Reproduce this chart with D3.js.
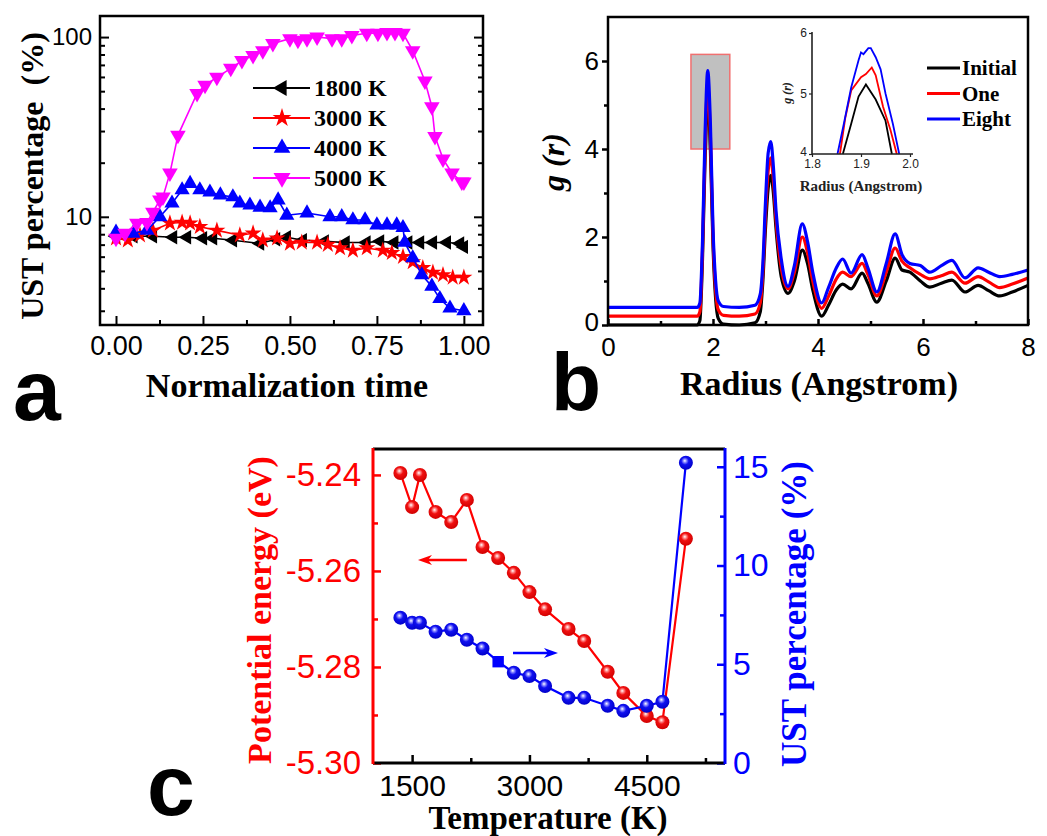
<!DOCTYPE html>
<html>
<head>
<meta charset="utf-8">
<script src="https://cdn.jsdelivr.net/npm/d3@7"></script>
<style>
body { margin: 0; background: #fff; }
svg { display: block; }
</style>
</head>
<body>
<svg id="fig" width="1047" height="836"></svg>
<script>
// ---- panel a : UST percentage vs normalization time (log y) ----
var seriesNames = ['1800 K', '3000 K', '4000 K', '5000 K']
var t1800 = [0, 0.05, 0.106, 0.164, 0.204, 0.25, 0.279, 0.336, 0.414, 0.46, 0.491, 0.537, 0.6, 0.66, 0.72, 0.759, 0.8, 0.84, 0.874, 0.911, 0.951, 0.989, 1.0]
var v1800 = [7.8, 7.8, 7.8, 7.7, 7.7, 7.6, 7.6, 7.4, 7.1, 7.5, 7.7, 7.4, 7.3, 7.2, 7.2, 7.3, 7.2, 7.2, 7.2, 7.2, 7.2, 7.1, 6.8]
var t3000 = [0, 0.034, 0.069, 0.106, 0.155, 0.19, 0.213, 0.241, 0.29, 0.356, 0.394, 0.422, 0.463, 0.5, 0.534, 0.578, 0.609, 0.644, 0.681, 0.721, 0.767, 0.793, 0.825, 0.853, 0.882, 0.911, 0.94, 0.968, 1.0]
var v3000 = [7.6, 7.4, 7.9, 8.4, 9.2, 9.3, 9.2, 8.8, 8.4, 7.9, 8.1, 7.4, 7.6, 7.1, 7.2, 7.2, 7.0, 6.7, 6.5, 6.7, 6.5, 6.3, 6.0, 5.6, 5.2, 4.9, 4.75, 4.6, 4.6]
var t4000 = [0, 0.049, 0.089, 0.126, 0.161, 0.19, 0.213, 0.241, 0.27, 0.3, 0.336, 0.356, 0.385, 0.414, 0.443, 0.466, 0.491, 0.549, 0.615, 0.649, 0.681, 0.716, 0.75, 0.779, 0.807, 0.825, 0.83, 0.853, 0.879, 0.908, 0.931, 0.96, 1.0]
var v4000 = [8.2, 8.1, 8.4, 10, 11.9, 14.1, 15.3, 14.1, 13.7, 13.2, 12.9, 11.9, 11.6, 11.3, 11.2, 12.4, 10.2, 10.5, 10, 10, 9.6, 9.6, 9.0, 9.0, 9.0, 8.7, 7.2, 5.9, 4.75, 4.1, 3.5, 3.1, 3.0]
var t5000 = [0, 0.026, 0.06, 0.089, 0.106, 0.126, 0.135, 0.155, 0.178, 0.233, 0.256, 0.29, 0.33, 0.362, 0.394, 0.422, 0.451, 0.5, 0.523, 0.549, 0.578, 0.621, 0.649, 0.678, 0.721, 0.753, 0.779, 0.802, 0.825, 0.853, 0.888, 0.908, 0.917, 0.94, 0.966, 0.994, 1.0]
var v5000 = [7.6, 8.1, 9.2, 9.3, 10.6, 12.4, 12.9, 17.5, 28.4, 48.6, 54, 59.7, 67, 74, 79, 84, 92, 98, 96, 98, 100, 98, 98, 102, 105, 105, 106, 106, 105, 84, 57, 41, 28, 21, 17.5, 15.6, 15.6]
var timeTicks = [0, 0.25, 0.5, 0.75, 1.0]
var timeMinor = [0.125, 0.375, 0.625, 0.875]
var ustTicks = [10, 100]
var ustMinor = [3, 4, 5, 6, 7, 8, 9, 20, 30, 40, 50, 60, 70, 80, 90]

// ---- panel b : g(r) ----
var radius = [0, 1.70, 1.75, 1.80, 1.85, 1.90, 1.95, 2.00, 2.05, 2.10, 2.20, 2.50, 2.80, 2.90, 2.95, 3.00, 3.05, 3.10, 3.15, 3.20, 3.30, 3.43, 3.55, 3.70, 3.80, 3.90, 4.07, 4.20, 4.35, 4.47, 4.63, 4.84, 4.95, 5.12, 5.30, 5.47, 5.60, 5.75, 5.95, 6.13, 6.35, 6.55, 6.80, 7.05, 7.25, 7.46, 7.70, 8.00]
var gInitial = [0, 0, 0.1, 1.5, 3.8, 5.15, 4.0, 1.8, 0.6, 0.15, 0.02, 0, 0.05, 0.3, 1.0, 2.2, 3.1, 3.4, 3.0, 2.2, 1.1, 0.72, 1.0, 1.7, 1.4, 0.8, 0.2, 0.45, 0.8, 0.93, 0.82, 1.18, 0.95, 0.52, 1.0, 1.52, 1.25, 1.2, 1.0, 0.86, 0.95, 1.02, 0.75, 0.9, 0.78, 0.66, 0.75, 0.9]
var gOne = [0.2, 0.2, 0.3, 1.7, 4.1, 5.45, 4.3, 2.0, 0.8, 0.35, 0.22, 0.2, 0.25, 0.5, 1.2, 2.5, 3.5, 3.8, 3.3, 2.4, 1.3, 0.82, 1.2, 2.0, 1.65, 1.0, 0.38, 0.65, 1.05, 1.2, 1.1, 1.4, 1.15, 0.66, 1.2, 1.75, 1.45, 1.3, 1.15, 1.05, 1.12, 1.2, 0.95, 1.1, 0.98, 0.85, 0.93, 1.07]
var gEight = [0.4, 0.4, 0.5, 1.9, 4.4, 5.78, 4.6, 2.2, 1.0, 0.55, 0.42, 0.4, 0.45, 0.7, 1.4, 2.8, 3.9, 4.17, 3.6, 2.6, 1.5, 0.88, 1.35, 2.3, 1.9, 1.2, 0.5, 0.85, 1.3, 1.5, 1.18, 1.6, 1.3, 0.75, 1.4, 2.07, 1.6, 1.4, 1.35, 1.2, 1.35, 1.47, 1.07, 1.3, 1.2, 1.1, 1.15, 1.25]
var gNames = ['Initial', 'One', 'Eight']
var highlightBox = [1.58, 2.32, 4.0, 6.15]   // r0, r1, g0, g1
// inset zoom on first peak
var rInitial = [1.863, 1.88, 1.895, 1.91, 1.93, 1.95, 1.963]
var gInsInitial = [4.0, 4.5, 4.95, 5.15, 4.9, 4.55, 4.0]
var rOne = [1.857, 1.868, 1.88, 1.9, 1.91, 1.922, 1.93, 1.945, 1.96, 1.973]
var gInsOne = [4.0, 4.6, 5.05, 5.27, 5.32, 5.43, 5.3, 4.78, 4.4, 4.0]
var rEight = [1.852, 1.865, 1.88, 1.895, 1.9, 1.905, 1.915, 1.92, 1.93, 1.94, 1.95, 1.965, 1.978]
var gInsEight = [4.0, 4.5, 5.1, 5.55, 5.68, 5.65, 5.75, 5.75, 5.6, 5.4, 5.0, 4.5, 4.0]

// ---- panel c : energy and UST vs temperature ----
var tempC = [1350, 1500, 1600, 1800, 2000, 2200, 2400, 2600, 2800, 3000, 3200, 3500, 3700, 4000, 4200, 4500, 4700, 5000]
var energy = [-5.2396, -5.2467, -5.2400, -5.2477, -5.2498, -5.2452, -5.2550, -5.2573, -5.2604, -5.2644, -5.2680, -5.2721, -5.2746, -5.2810, -5.2854, -5.2902, -5.2915, -5.2533]
var ust = [7.36, 7.1, 7.1, 6.65, 6.75, 6.24, 5.8, 5.13, 4.57, 4.4, 3.9, 3.3, 3.3, 2.9, 2.64, 2.9, 3.1, 15.2]
var tempTicks = [1500, 3000, 4500]
var tempMinor = [2250, 3750, 5250]
var energyTicks = [-5.30, -5.28, -5.26, -5.24]
var energyMinor = [-5.29, -5.27, -5.25]
var ustRightTicks = [0, 5, 10, 15]
var ustRightMinor = [2.5, 7.5, 12.5]

var SERIF = '"Liberation Serif", "Times New Roman", serif'
var SANS = '"Liberation Sans", Arial, sans-serif'

var svg = d3.select('#fig')

function styleAxis(g, size, color, width) {
  g.attr('font-size', size).attr('font-family', SANS)
  g.select('.domain').remove()
  g.selectAll('line').attr('stroke', color).attr('stroke-width', width)
  g.selectAll('text').attr('fill', color)
  return g
}
function zip(a, b) { return a.map(function(d, i) { return [d, b[i]] }) }
var intFmt = function(d) { return String(d) }

// =============== panel a ===============
var xA = d3.scaleLinear().domain([-0.046, 1.055]).range([100, 483]),
    yA = d3.scaleLog().domain([2.5, 131]).range([325, 16])

var pa = svg.append('g')

styleAxis(pa.append('g').attr('transform', 'translate(100,0)')
  .call(d3.axisLeft(yA).tickValues(ustTicks).tickFormat(intFmt).tickSize(-9).tickPadding(8)), 24, '#000', 2)
styleAxis(pa.append('g').attr('transform', 'translate(100,0)')
  .call(d3.axisLeft(yA).tickValues(ustMinor).tickFormat('').tickSize(-5)), 24, '#000', 2)
styleAxis(pa.append('g').attr('transform', 'translate(483,0)')
  .call(d3.axisRight(yA).tickValues(ustTicks).tickFormat('').tickSize(-9)), 24, '#000', 2)
styleAxis(pa.append('g').attr('transform', 'translate(483,0)')
  .call(d3.axisRight(yA).tickValues(ustMinor).tickFormat('').tickSize(-5)), 24, '#000', 2)
styleAxis(pa.append('g').attr('transform', 'translate(0,325)')
  .call(d3.axisBottom(xA).tickValues(timeTicks).tickFormat(function(d) { return d.toFixed(2) }).tickSize(-9).tickPadding(11)), 27, '#000', 2)
styleAxis(pa.append('g').attr('transform', 'translate(0,325)')
  .call(d3.axisBottom(xA).tickValues(timeMinor).tickFormat('').tickSize(-5)), 27, '#000', 2)

pa.append('rect').attr('x', 100).attr('y', 16).attr('width', 383).attr('height', 309)
  .attr('fill', 'none').attr('stroke', '#000').attr('stroke-width', 2.5)

var seriesA = [
  {name: seriesNames[0], t: t1800, v: v1800, color: '#000000', sym: d3.symbolTriangle, rot: -90, size: 90},
  {name: seriesNames[1], t: t3000, v: v3000, color: '#ff0000', sym: d3.symbolStar, rot: 0, size: 90},
  {name: seriesNames[2], t: t4000, v: v4000, color: '#0000ff', sym: d3.symbolTriangle, rot: 0, size: 100},
  {name: seriesNames[3], t: t5000, v: v5000, color: '#ff00ff', sym: d3.symbolTriangle, rot: 180, size: 105}
]
var lineA = d3.line().x(function(d) { return xA(d[0]) }).y(function(d) { return yA(d[1]) })

seriesA.forEach(function(s) {
  var pts = zip(s.t, s.v)
  pa.append('path').datum(pts).attr('d', lineA)
    .attr('fill', 'none').attr('stroke', s.color).attr('stroke-width', 1.6)
  pa.selectAll(null).data(pts).enter().append('path')
    .attr('d', d3.symbol().type(s.sym).size(s.size))
    .attr('transform', function(d) { return 'translate(' + xA(d[0]) + ',' + yA(d[1]) + ') rotate(' + s.rot + ')' })
    .attr('fill', s.color)
})

// legend
seriesA.forEach(function(s, i) {
  var y = 88 + i * 30
  pa.append('line').attr('x1', 253).attr('x2', 310).attr('y1', y).attr('y2', y)
    .attr('stroke', s.color).attr('stroke-width', 2)
  pa.append('path').attr('d', d3.symbol().type(s.sym).size(s.size + 20)())
    .attr('transform', 'translate(282,' + y + ') rotate(' + s.rot + ')').attr('fill', s.color)
  pa.append('text').attr('x', 314).attr('y', y + 8).text(s.name)
    .attr('font-family', SERIF).attr('font-weight', 'bold').attr('font-size', 24)
})

pa.append('text').attr('transform', 'translate(43,176) rotate(-90)').attr('text-anchor', 'middle')
  .attr('font-family', SERIF).attr('font-weight', 'bold').attr('font-size', 32)
  .style('white-space', 'pre').text('UST percentage  (%)')
pa.append('text').attr('x', 287).attr('y', 397).attr('text-anchor', 'middle')
  .attr('font-family', SERIF).attr('font-weight', 'bold').attr('font-size', 34).text('Normalization time')
pa.append('text').attr('x', 13).attr('y', 420)
  .attr('font-family', SANS).attr('font-weight', 'bold').attr('font-size', 86).text('a')

// =============== panel b ===============
var xB = d3.scaleLinear().domain([0, 8]).range([608, 1028]),
    yB = d3.scaleLinear().domain([0, 7]).range([325, 17])
var pb = svg.append('g')

pb.append('rect')
  .attr('x', xB(highlightBox[0])).attr('width', xB(highlightBox[1]) - xB(highlightBox[0]))
  .attr('y', yB(highlightBox[3])).attr('height', yB(highlightBox[2]) - yB(highlightBox[3]))
  .attr('fill', '#c0c0c0').attr('stroke', '#f07070').attr('stroke-width', 1.5)

var ybAxis = styleAxis(pb.append('g').attr('transform', 'translate(608,0)')
  .call(d3.axisLeft(yB).tickValues([0, 2, 4, 6]).tickFormat(intFmt).tickSize(6).tickPadding(3)), 26, '#000', 2.5)
ybAxis.selectAll('text').attr('dy', function(d) { return d === 0 ? '0.22em' : '0.32em' })
styleAxis(pb.append('g').attr('transform', 'translate(608,0)')
  .call(d3.axisLeft(yB).tickValues([1, 3, 5]).tickFormat('').tickSize(4)), 26, '#000', 2.5)
styleAxis(pb.append('g').attr('transform', 'translate(0,325)')
  .call(d3.axisBottom(xB).tickValues([0, 2, 4, 6, 8]).tickFormat(intFmt).tickSize(-6).tickPadding(13)), 26, '#000', 2.5)
styleAxis(pb.append('g').attr('transform', 'translate(0,325)')
  .call(d3.axisBottom(xB).tickValues([1, 3, 5, 7]).tickFormat('').tickSize(-4)), 26, '#000', 2.5)

var lineB = d3.line().curve(d3.curveMonotoneX)
  .x(function(d) { return xB(d[0]) }).y(function(d) { return yB(d[1]) })
var curvesB = [
  {g: gInitial, color: '#000000'},
  {g: gOne, color: '#ff0000'},
  {g: gEight, color: '#0000ff'}
]
curvesB.forEach(function(c) {
  pb.append('path').datum(zip(radius, c.g)).attr('d', lineB)
    .attr('fill', 'none').attr('stroke', c.color).attr('stroke-width', 3.2)
})

pb.append('rect').attr('x', 608).attr('y', 17).attr('width', 420).attr('height', 308)
  .attr('fill', 'none').attr('stroke', '#000').attr('stroke-width', 2.5)

// inset
var xI = d3.scaleLinear().domain([1.8, 2.0]).range([812, 910]),
    yI = d3.scaleLinear().domain([4, 6]).range([154, 33])
var lineI = d3.line().x(function(d) { return xI(d[0]) }).y(function(d) { return yI(d[1]) })
var insetCurves = [
  {r: rInitial, g: gInsInitial, color: '#000000'},
  {r: rOne, g: gInsOne, color: '#ff0000'},
  {r: rEight, g: gInsEight, color: '#0000ff'}
]
insetCurves.forEach(function(c) {
  pb.append('path').datum(zip(c.r, c.g)).attr('d', lineI)
    .attr('fill', 'none').attr('stroke', c.color).attr('stroke-width', 1.8)
})
var ia = pb.append('g').attr('transform', 'translate(812,0)')
  .call(d3.axisLeft(yI).tickValues([4, 5, 6]).tickFormat(intFmt).tickSize(3).tickPadding(2))
styleAxis(ia, 12, '#222', 1.2)
ia.selectAll('text').attr('dy', function(d) { return d === 4 ? '0.1em' : '0.32em' })
var ib = pb.append('g').attr('transform', 'translate(0,154)')
  .call(d3.axisBottom(xI).tickValues([1.8, 1.9, 2.0]).tickFormat(function(d) { return d.toFixed(1) }).tickSize(3).tickPadding(2))
styleAxis(ib, 12, '#222', 1.2)
pb.append('path').attr('d', 'M812,32V154H913').attr('fill', 'none').attr('stroke', '#222').attr('stroke-width', 1.6)
pb.append('text').attr('x', 861).attr('y', 191).attr('text-anchor', 'middle')
  .attr('font-family', SERIF).attr('font-weight', 'bold').attr('font-size', 15).attr('fill', '#222')
  .text('Radius (Angstrom)')
pb.append('text').attr('transform', 'translate(791,93) rotate(-90)').attr('text-anchor', 'middle')
  .attr('font-family', SERIF).attr('font-weight', 'bold').attr('font-style', 'italic').attr('font-size', 12)
  .attr('fill', '#222').text('g (r)')

insetCurves.forEach(function(c, i) {
  var y = 68 + i * 25.5
  pb.append('line').attr('x1', 927).attr('x2', 960).attr('y1', y).attr('y2', y)
    .attr('stroke', c.color).attr('stroke-width', 3)
  pb.append('text').attr('x', 962).attr('y', y + 7).text(gNames[i])
    .attr('font-family', SERIF).attr('font-weight', 'bold').attr('font-size', 21)
})

pb.append('text').attr('transform', 'translate(564,162) rotate(-90)').attr('text-anchor', 'middle')
  .attr('font-family', SERIF).attr('font-weight', 'bold').attr('font-style', 'italic').attr('font-size', 32)
  .text('g (r)')
pb.append('text').attr('x', 819).attr('y', 395).attr('text-anchor', 'middle')
  .attr('font-family', SERIF).attr('font-weight', 'bold').attr('font-size', 34).text('Radius (Angstrom)')
pb.append('text').attr('x', 551).attr('y', 410)
  .attr('font-family', SANS).attr('font-weight', 'bold').attr('font-size', 82).text('b')

// =============== panel c ===============
var xC = d3.scaleLinear().domain([1000, 5500]).range([373, 725]),
    yE = d3.scaleLinear().domain([-5.30, -5.2346]).range([763, 449]),
    yU = d3.scaleLinear().domain([0, 15.9]).range([763, 449])
var pc = svg.append('g')

var defs = svg.append('defs')
function ballGradient(id, light, mid, dark) {
  var g = defs.append('radialGradient').attr('id', id)
    .attr('cx', '45%').attr('cy', '40%').attr('r', '60%').attr('fx', '42%').attr('fy', '35%')
  g.append('stop').attr('offset', '0').attr('stop-color', '#ffffff')
  g.append('stop').attr('offset', '0.22').attr('stop-color', light)
  g.append('stop').attr('offset', '0.45').attr('stop-color', mid)
  g.append('stop').attr('offset', '1').attr('stop-color', dark)
}
ballGradient('ballRed', '#ff8080', '#f01010', '#d00000')
ballGradient('ballBlue', '#8080ff', '#1010f0', '#0000c8')

styleAxis(pc.append('g').attr('transform', 'translate(373,0)')
  .call(d3.axisLeft(yE).tickValues(energyTicks).tickFormat(function(d) { return d.toFixed(2) }).tickSize(-8).tickPadding(12)), 33, '#ff0000', 2.5)
styleAxis(pc.append('g').attr('transform', 'translate(373,0)')
  .call(d3.axisLeft(yE).tickValues(energyMinor).tickFormat('').tickSize(-5)), 33, '#ff0000', 2.5)
styleAxis(pc.append('g').attr('transform', 'translate(725,0)')
  .call(d3.axisRight(yU).tickValues(ustRightTicks).tickFormat(intFmt).tickSize(-8).tickPadding(8)), 32, '#0000ff', 2.5)
styleAxis(pc.append('g').attr('transform', 'translate(725,0)')
  .call(d3.axisRight(yU).tickValues(ustRightMinor).tickFormat('').tickSize(-5)), 32, '#0000ff', 2.5)
styleAxis(pc.append('g').attr('transform', 'translate(0,763)')
  .call(d3.axisBottom(xC).tickValues(tempTicks).tickFormat(intFmt).tickSize(-8).tickPadding(12)), 30, '#000', 2.5)
styleAxis(pc.append('g').attr('transform', 'translate(0,763)')
  .call(d3.axisBottom(xC).tickValues(tempMinor).tickFormat('').tickSize(-5)), 30, '#000', 2.5)

pc.append('line').attr('x1', 373).attr('x2', 725).attr('y1', 449).attr('y2', 449).attr('stroke', '#000').attr('stroke-width', 3)
pc.append('line').attr('x1', 373).attr('x2', 725).attr('y1', 763).attr('y2', 763).attr('stroke', '#000').attr('stroke-width', 3)
pc.append('line').attr('x1', 373).attr('x2', 373).attr('y1', 448).attr('y2', 764).attr('stroke', '#ff0000').attr('stroke-width', 3)
pc.append('line').attr('x1', 725).attr('x2', 725).attr('y1', 448).attr('y2', 764).attr('stroke', '#0000ff').attr('stroke-width', 3)

var ptsE = zip(tempC, energy), ptsU = zip(tempC, ust)
pc.append('path').datum(ptsE)
  .attr('d', d3.line().x(function(d) { return xC(d[0]) }).y(function(d) { return yE(d[1]) }))
  .attr('fill', 'none').attr('stroke', '#ff0000').attr('stroke-width', 2.2)
pc.append('path').datum(ptsU)
  .attr('d', d3.line().x(function(d) { return xC(d[0]) }).y(function(d) { return yU(d[1]) }))
  .attr('fill', 'none').attr('stroke', '#0000ff').attr('stroke-width', 2.2)

pc.selectAll('.eball').data(ptsE).enter().append('circle').attr('class', 'eball')
  .attr('cx', function(d) { return xC(d[0]) }).attr('cy', function(d) { return yE(d[1]) })
  .attr('r', 7).attr('fill', 'url(#ballRed)')
// the 2600 K UST point is drawn as a square in the original
pc.selectAll('.uball').data(ptsU).enter().append('path').attr('class', 'uball')
  .attr('d', function(d, i) {
    return i === 7 ? d3.symbol().type(d3.symbolSquare).size(130)() : d3.symbol().type(d3.symbolCircle).size(154)()
  })
  .attr('transform', function(d) { return 'translate(' + xC(d[0]) + ',' + yU(d[1]) + ')' })
  .attr('fill', function(d, i) { return i === 7 ? '#0000ff' : 'url(#ballBlue)' })

// arrows telling which axis each series uses
var arrowE = {from: 2200, to: 1575, value: -5.2577}
var arrowU = {from: 2790, to: 3365, value: 5.57}
function arrow(x0, x1, y, color) {
  var dir = x1 > x0 ? 1 : -1
  pc.append('line').attr('x1', x0).attr('x2', x1 - dir * 10).attr('y1', y).attr('y2', y)
    .attr('stroke', color).attr('stroke-width', 2.5)
  pc.append('path').attr('d', 'M' + x1 + ',' + y + 'L' + (x1 - dir * 14) + ',' + (y - 5) +
    'L' + (x1 - dir * 10) + ',' + y + 'L' + (x1 - dir * 14) + ',' + (y + 5) + 'Z').attr('fill', color)
}
arrow(xC(arrowE.from), xC(arrowE.to), yE(arrowE.value), '#ff0000')
arrow(xC(arrowU.from), xC(arrowU.to), yU(arrowU.value), '#0000ff')

pc.append('text').attr('transform', 'translate(271,610) rotate(-90)').attr('text-anchor', 'middle')
  .attr('font-family', SERIF).attr('font-weight', 'bold').attr('font-size', 34).attr('fill', '#ff0000')
  .text('Potential energy (eV)')
pc.append('text').attr('transform', 'translate(806,614) rotate(-90)').attr('text-anchor', 'middle')
  .attr('font-family', SERIF).attr('font-weight', 'bold').attr('font-size', 35).attr('fill', '#0000ff')
  .text('UST percentage (%)')
pc.append('text').attr('x', 548).attr('y', 829).attr('text-anchor', 'middle')
  .attr('font-family', SERIF).attr('font-weight', 'bold').attr('font-size', 33).text('Temperature (K)')
pc.append('text').attr('x', 147).attr('y', 815)
  .attr('font-family', SANS).attr('font-weight', 'bold').attr('font-size', 86).text('c')
</script>
</body>
</html>
